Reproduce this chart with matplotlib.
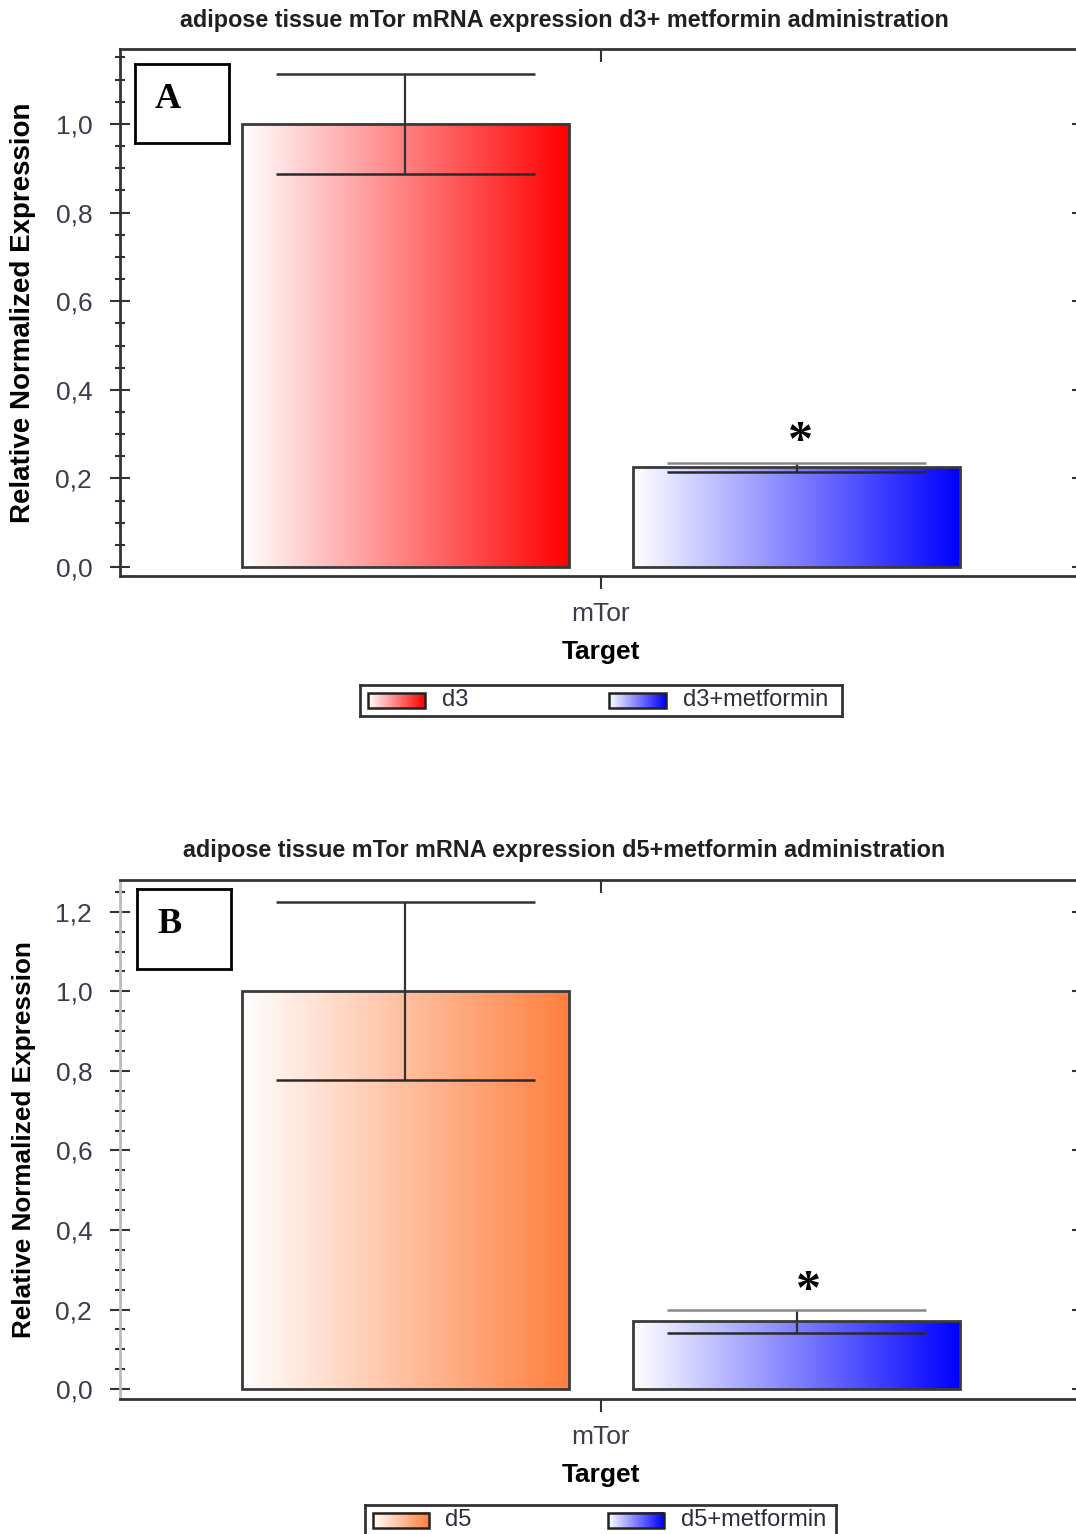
import numpy as np
import matplotlib.pyplot as plt
from matplotlib.ticker import MultipleLocator, FuncFormatter

plt.rcParams['font.family'] = ['Liberation Sans', 'DejaVu Sans']

# -----------------------------
# Data
# -----------------------------
target = "mTor"
groups_a = ["d3", "d3+metformin"]
values_a = [1.0, 0.225]
errors_a = [0.113, 0.010]

groups_b = ["d5", "d5+metformin"]
values_b = [1.0, 0.170]
errors_b = [0.224, 0.029]

title_a = "adipose tissue mTor mRNA expression d3+ metformin administration"
title_b = "adipose tissue mTor mRNA expression d5+metformin administration"

W, H = 1076, 1534
fig = plt.figure(figsize=(W / 100, H / 100), dpi=100)


def px_box(left, top, right, bottom):
    return [left / W, 1 - bottom / H, (right - left) / W, (bottom - top) / H]


def gradient_bar(ax, x, w, h, color, zorder=2):
    grad = np.linspace(0, 1, 256).reshape(1, -1)
    c = np.array(plt.matplotlib.colors.to_rgb(color))
    img = (1 - grad[..., None]) * np.ones(3) + grad[..., None] * c
    ax.imshow(img, extent=[x - w / 2, x + w / 2, 0, h], aspect='auto',
              zorder=zorder, interpolation='bilinear')
    ax.bar(x, h, width=w, facecolor='none', edgecolor='#3a3a3a',
           linewidth=2, zorder=zorder + 0.5)


def panel(box, values, errors, colors, groups, title, title_y, letter, ylim,
          spine_col, leg_box, star_off, ylab_size):
    ax = fig.add_axes(box)
    pos = [-0.5, 0.5]
    bw = 0.834
    cap = 0.332
    for x, v, e, c in zip(pos, values, errors, colors):
        gradient_bar(ax, x, bw, v, c)
        ax.vlines(x, v - e, v + e, color='#333333', lw=1.6, zorder=4)
        ax.hlines(v - e, x - cap, x + cap, color='#2a2a2a', lw=1.8, zorder=4)
        top_col = '#333333' if e > 0.05 else '#888888'
        ax.hlines(v + e, x - cap, x + cap, color=top_col, lw=1.8, zorder=4)
    ax.text(pos[1] + star_off, values[1] + errors[1] + 0.045, "*",
            fontsize=36, fontfamily='Liberation Serif', fontweight='bold',
            ha='center', va='center')

    ax.set_xlim(-1.23, 1.23)
    ax.set_ylim(*ylim)
    ax.set_xticks([0])
    ax.set_xticklabels([target], fontsize=19, color='#3c3c4c')
    ax.set_xlabel("Target", fontsize=19, fontweight='bold', labelpad=10)
    ax.set_ylabel("Relative Normalized Expression", fontsize=ylab_size,
                  fontweight='bold', labelpad=14)
    ax.yaxis.set_major_locator(MultipleLocator(0.2))
    ax.yaxis.set_minor_locator(MultipleLocator(0.05))
    ax.yaxis.set_major_formatter(FuncFormatter(lambda v, p: f"{v:.1f}".replace(".", ",")))
    ax.tick_params(axis='y', which='major', direction='inout', length=14,
                   width=1.5, labelsize=19, labelcolor='#3c3c4c', right=True,
                   pad=13, color='#333333')
    ax.tick_params(axis='y', which='minor', direction='inout', length=7,
                   width=1.5, color='#333333')
    ax.tick_params(axis='x', direction='out', length=9, width=1.5, pad=10,
                   color='#333333')
    for s in ['top', 'bottom']:
        ax.spines[s].set_color('#333333')
        ax.spines[s].set_linewidth(2)
    ax.spines['left'].set_color(spine_col)
    ax.spines['left'].set_linewidth(2)
    ax.spines['right'].set_visible(False)
    sec = ax.secondary_xaxis('top')
    sec.set_xticks([0])
    sec.tick_params(direction='in', length=9, width=1.5, labeltop=False,
                    color='#333333')
    sec.spines['top'].set_visible(False)

    fig.text(564 / W, 1 - title_y / H, title, fontsize=16.8,
             fontweight='bold', ha='center', va='center', color='#202020')

    # letter box
    lb = fig.add_axes(letter[1])
    lb.set_xticks([])
    lb.set_yticks([])
    for s in lb.spines.values():
        s.set_linewidth(2)
    lb.text(0.35, 0.55, letter[0], fontsize=26, fontweight='bold',
            fontfamily='Liberation Serif', ha='center', va='center',
            transform=lb.transAxes)

    # legend
    lg = fig.add_axes(leg_box)
    lg.set_xticks([])
    lg.set_yticks([])
    for s in lg.spines.values():
        s.set_linewidth(2)
        s.set_color('#333333')
    for i, (g, c) in enumerate(zip(groups, colors)):
        x0 = 8 + i * 241
        grad = np.linspace(0, 1, 128).reshape(1, -1)
        cc = np.array(plt.matplotlib.colors.to_rgb(c))
        img = (1 - grad[..., None]) * np.ones(3) + grad[..., None] * cc
        lg.imshow(img, extent=[x0, x0 + 57, 8, 23], aspect='auto')
        lg.add_patch(plt.Rectangle((x0, 8), 57, 15, fill=False,
                                   edgecolor='#222222', lw=1.8))
        lg.text(x0 + 74, 16, g, fontsize=17, va='center', color='#2c2c3c')
    lg.set_xlim(0, 482)
    lg.set_ylim(0, 31)
    return ax


panel(px_box(120, 49, 1082, 576), values_a, errors_a, ['#ff0000', '#0000ff'],
      groups_a, title_a, 20, ("A", px_box(135, 64, 229, 143)), (-0.02, 1.169),
      '#333333', px_box(360, 685, 842, 716), 0.01, 20)

panel(px_box(120, 880, 1082, 1399), values_b, errors_b, ['#ff7f3f', '#0000ff'],
      groups_b, title_b, 851, ("B", px_box(137, 889, 231, 969)), (-0.025, 1.28),
      '#bbbbbb', px_box(365, 1505, 836, 1536), 0.03, 18.8)

fig.savefig("out.png", dpi=100)
